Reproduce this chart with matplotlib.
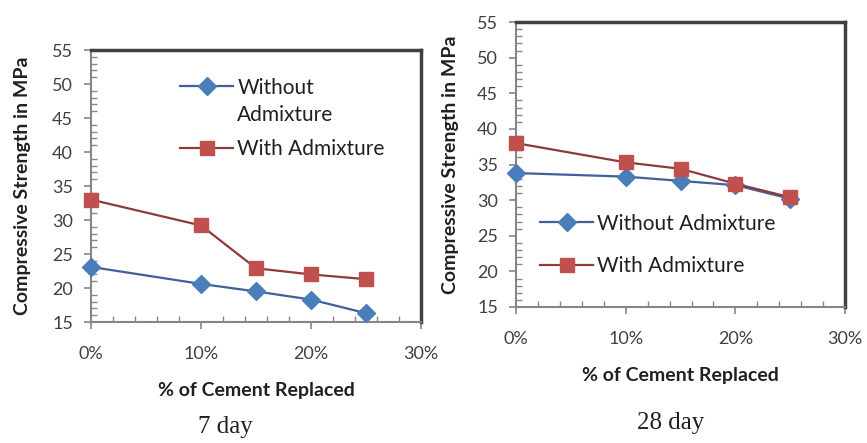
import matplotlib
matplotlib.use("Agg")
import matplotlib.pyplot as plt
from matplotlib.ticker import MultipleLocator, FuncFormatter

plt.rcParams['font.family'] = ['Lato', 'DejaVu Sans']

# % of cement replaced
replaced = [0, 10, 15, 20, 25]

# 7 day compressive strength (MPa)
day7_without = [23.1, 20.6, 19.5, 18.3, 16.3]
day7_with = [33.0, 29.2, 22.9, 22.0, 21.3]

# 28 day compressive strength (MPa)
day28_without = [33.8, 33.3, 32.7, 32.1, 30.2]
day28_with = [38.0, 35.3, 34.4, 32.3, 30.4]

x_ticks = [0, 10, 20, 30]
y_ticks = [15, 20, 25, 30, 35, 40, 45, 50, 55]

blue_line = '#41609a'
blue_mark = '#4a7ebb'
red_line = '#8e3a3c'
red_mark = '#c0504d'
text_col = '#404040'

fig = plt.figure(figsize=(8.67, 4.43), dpi=100)
ax1 = fig.add_axes([0.105, 0.2731, 0.3806, 0.614])
ax2 = fig.add_axes([0.5952, 0.307, 0.3795, 0.6433])


def style_axes(ax):
    ax.set_xlim(0, 30)
    ax.set_ylim(15, 55)
    ax.set_xticks(x_ticks)
    ax.set_yticks(y_ticks)
    ax.xaxis.set_minor_locator(MultipleLocator(2))
    ax.yaxis.set_minor_locator(MultipleLocator(1))
    ax.xaxis.set_major_formatter(FuncFormatter(lambda v, p: '%d%%' % v))
    ax.tick_params(which='major', direction='out', length=5, width=1.2,
                   color='#868686', labelsize=13, labelcolor=text_col)
    ax.tick_params(which='minor', direction='in', length=4, width=1.0,
                   color='#868686')
    ax.tick_params(axis='x', which='major', pad=12)
    ax.tick_params(axis='y', which='major', pad=8)
    for s in ['left', 'bottom']:
        ax.spines[s].set_color('#868686')
        ax.spines[s].set_linewidth(1.5)
    for s in ['top', 'right']:
        ax.spines[s].set_color('#404040')
        ax.spines[s].set_linewidth(2.5)
    ax.set_xlabel('% of Cement Replaced', fontsize=14, fontweight='bold',
                  color='#202020')
    ax.set_ylabel('Compressive Strength in MPa', fontsize=14,
                  fontweight='bold', color='#202020')


# 7 day
l1, = ax1.plot(replaced, day7_without, color=blue_line, lw=1.6, marker='D',
               ms=9, mfc=blue_mark, mec=blue_mark, clip_on=False, zorder=3)
l2, = ax1.plot(replaced, day7_with, color=red_line, lw=1.6, marker='s',
               ms=10, mfc=red_mark, mec=red_mark, clip_on=False, zorder=3)
style_axes(ax1)
ax1.xaxis.set_label_coords(0.5, -0.22)
ax1.yaxis.set_label_coords(-0.182, 0.5)
ax1.legend([l1, l2], ['Without', 'With Admixture'], loc='center left',
           bbox_to_anchor=(0.27, 0.748), frameon=False, fontsize=15,
           handlelength=2.55, handletextpad=0.2, labelspacing=2.0,
           borderpad=0, borderaxespad=0, labelcolor='#202020')
ax1.text(0.442, 0.761, 'Admixture', transform=ax1.transAxes, fontsize=15,
         color='#202020', va='center', ha='left')

# 28 day
l3, = ax2.plot(replaced, day28_without, color=blue_line, lw=1.6, marker='D',
               ms=9, mfc=blue_mark, mec=blue_mark, clip_on=False, zorder=3)
l4, = ax2.plot(replaced, day28_with, color=red_line, lw=1.6, marker='s',
               ms=10, mfc=red_mark, mec=red_mark, clip_on=False, zorder=3)
style_axes(ax2)
ax2.xaxis.set_label_coords(0.5, -0.21)
ax2.yaxis.set_label_coords(-0.173, 0.5)
ax2.legend([l3, l4], ['Without Admixture', 'With Admixture'],
           loc='center left', bbox_to_anchor=(0.073, 0.2175), frameon=False,
           fontsize=15, handlelength=2.55, handletextpad=0.2,
           labelspacing=1.1, borderpad=0, borderaxespad=0,
           labelcolor='#202020')

fig.text(0.2595, 0.036, '7 day', family='Liberation Serif', fontsize=18,
         ha='center', va='center', color='#202020')
fig.text(0.773, 0.045, '28 day', family='Liberation Serif', fontsize=18,
         ha='center', va='center', color='#202020')

fig.savefig('out.png', dpi=100, facecolor='white')
